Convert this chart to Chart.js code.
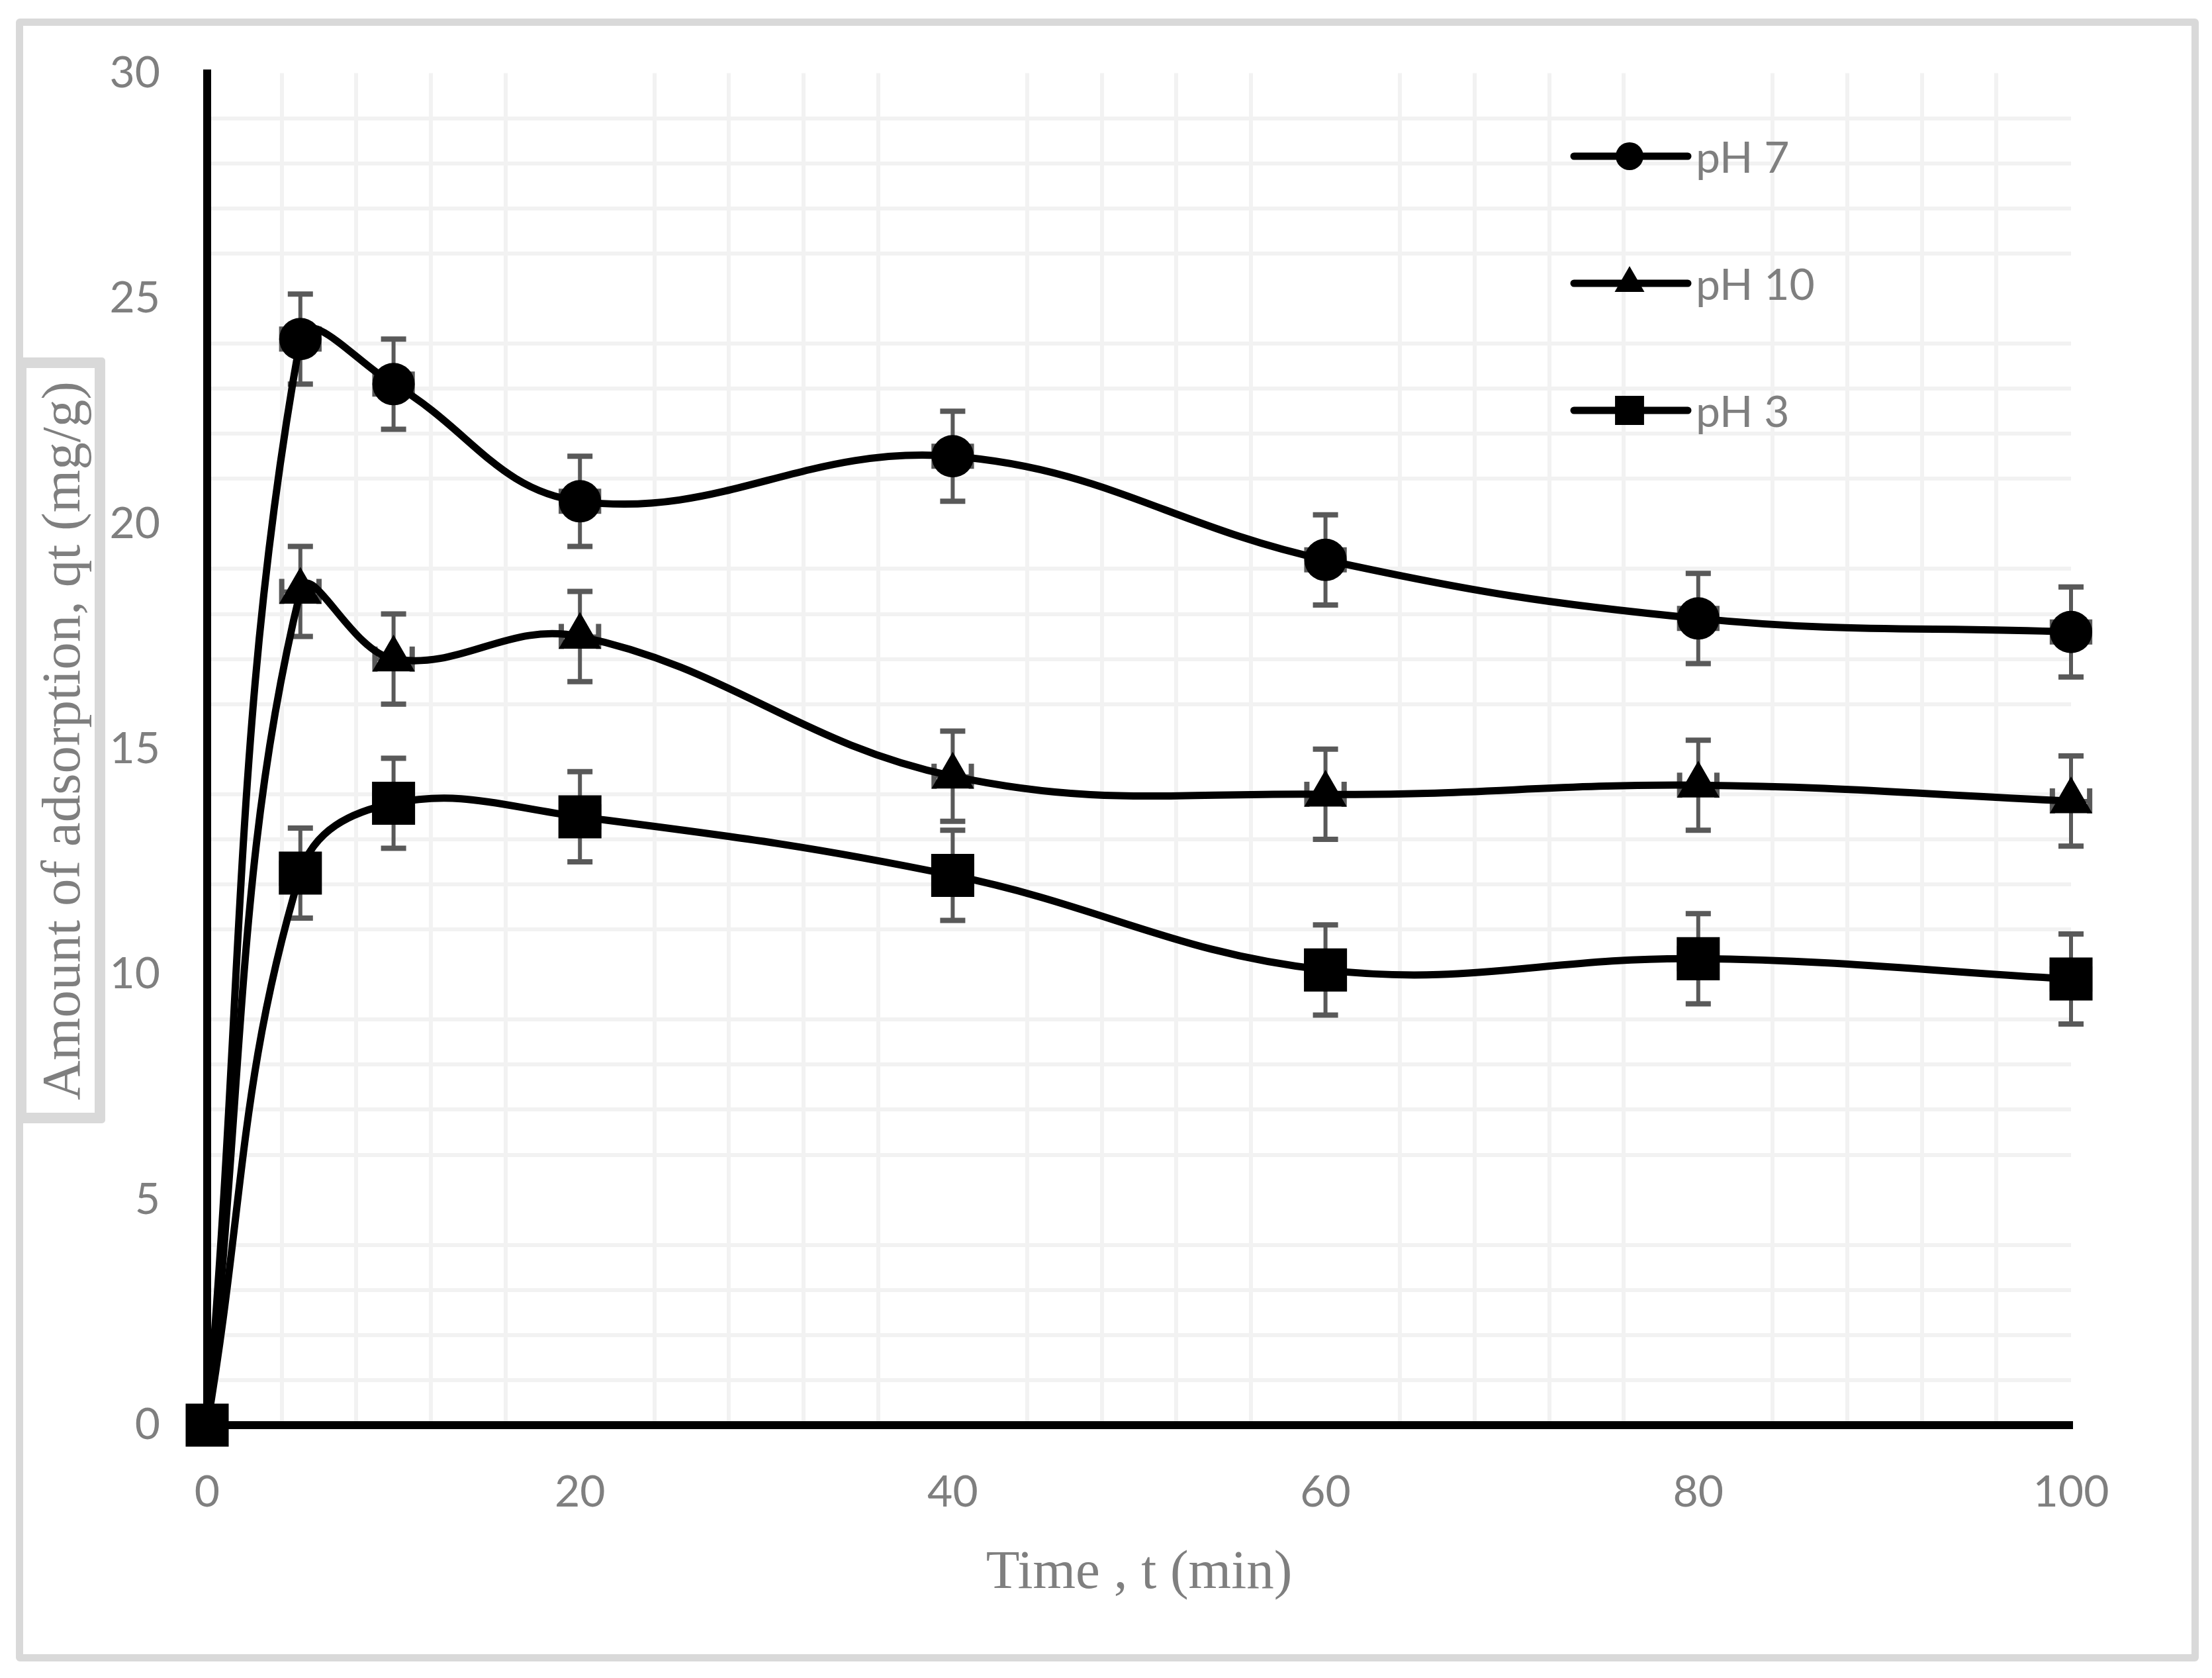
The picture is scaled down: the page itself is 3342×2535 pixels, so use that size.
<!DOCTYPE html>
<html>
<head>
<meta charset="utf-8">
<script src="https://cdn.jsdelivr.net/npm/chart.js@4.4.0/dist/chart.umd.min.js"></script>
<style>
  html, body { margin: 0; padding: 0; background: #fff; }
  #wrap { position: relative; width: 3342px; height: 2535px; }
  #frame {
    position: absolute; left: 24px; top: 28px; width: 3298px; height: 2482px;
    border: 11px solid #d9d9d9; border-radius: 6px; box-sizing: border-box;
  }
  #ytitle {
    position: absolute; left: 24px; top: 540px; width: 135px; height: 1157px;
    border: 16px solid #d9d9d9; border-radius: 5px; box-sizing: border-box; background: #fff;
  }
  #ytitle span {
    position: absolute; left: 50%; top: 50%;
    transform: translate(-50%, -50%) rotate(-90deg);
    white-space: nowrap; font: 83px "Liberation Serif", serif; color: #7f7f7f;
  }
  canvas { position: absolute; left: 0; top: 0; }
</style>
</head>
<body>
<div id="wrap">
  <div id="frame"></div>
  <canvas id="kineticsChart" width="3342" height="2535"></canvas>
  <div id="ytitle"><span>Amount of adsorption, qt (mg/g)</span></div>
</div>
<script>
// Contact time (min)
const times = [0, 5, 10, 20, 40, 60, 80, 100];

// Amount adsorbed qt (mg/g)
const ph7 = [0, 24.1, 23.1, 20.5, 21.5, 19.2, 17.9, 17.6];
const ph10 = [0, 18.5, 17.0, 17.5, 14.4, 14.0, 14.2, 13.85];
const ph3 = [0, 12.25, 13.8, 13.5, 12.2, 10.1, 10.35, 9.9];

// error bars (same for every series)
const yErr = [0, 1, 1, 1, 1, 1, 1, 1];
const xErr = [0, 1, 1, 1, 1, 1, 1, 1];

const xTickStep = 4;
const xLabelStep = 20;
const yTickStep = 1;
const yLabelStep = 5;

const gridGrey = '#f2f2f2';
const textGrey = '#7f7f7f';

function toPoints(values) {
    return times.map((t, i) => ({ x: t, y: values[i] }));
}

function seriesStyle(label, values, pointStyle, radius, order) {
    return {
        label: label,
        data: toPoints(values),
        borderColor: '#000',
        backgroundColor: '#000',
        borderWidth: 11,
        borderJoinStyle: 'round',
        tension: 0.4,
        pointStyle: pointStyle,
        pointRadius: radius,
        pointBorderWidth: 0,
        pointBackgroundColor: '#000',
        clip: false,
        order: order,
        errY: yErr,
        errX: xErr
    };
}

// draws x and y error bars under the lines
const errorBars = {
    id: 'errorBars',
    beforeDatasetsDraw(chart) {
        const { ctx, scales: { x, y } } = chart;
        ctx.save();
        ctx.strokeStyle = '#595959';
        ctx.lineCap = 'butt';
        const cap = 19;
        chart.data.datasets.forEach(ds => {
            ds.data.forEach((pt, i) => {
                const px = x.getPixelForValue(pt.x);
                const py = y.getPixelForValue(pt.y);
                const ey = ds.errY[i];
                const ex = ds.errX[i];
                if (ey) {
                    const top = y.getPixelForValue(pt.y + ey);
                    const bot = y.getPixelForValue(pt.y - ey);
                    ctx.lineWidth = 6;
                    ctx.beginPath();
                    ctx.moveTo(px, top); ctx.lineTo(px, bot);
                    ctx.stroke();
                    ctx.lineWidth = 8;
                    ctx.beginPath();
                    ctx.moveTo(px - cap, top); ctx.lineTo(px + cap, top);
                    ctx.moveTo(px - cap, bot); ctx.lineTo(px + cap, bot);
                    ctx.stroke();
                }
                if (ex) {
                    const lft = x.getPixelForValue(pt.x - ex);
                    const rgt = x.getPixelForValue(pt.x + ex);
                    ctx.lineWidth = 6;
                    ctx.beginPath();
                    ctx.moveTo(lft, py); ctx.lineTo(rgt, py);
                    ctx.stroke();
                    ctx.lineWidth = 8;
                    ctx.beginPath();
                    ctx.moveTo(lft, py - cap); ctx.lineTo(lft, py + cap);
                    ctx.moveTo(rgt, py - cap); ctx.lineTo(rgt, py + cap);
                    ctx.stroke();
                }
            });
        });
        ctx.restore();
    }
};

// legend inside the plot, top right, one entry per row
const sideLegend = {
    id: 'sideLegend',
    afterDraw(chart) {
        const ctx = chart.ctx;
        const legendRadius = { circle: 21, triangle: 26, rect: 31 };
        chart.data.datasets.forEach((ds, i) => {
            const cy = 236 + i * 192;
            ctx.save();
            ctx.strokeStyle = '#000';
            ctx.lineWidth = 11;
            ctx.lineCap = 'round';
            ctx.beginPath();
            ctx.moveTo(2378, cy);
            ctx.lineTo(2550, cy);
            ctx.stroke();
            ctx.fillStyle = '#000';
            Chart.helpers.drawPoint(ctx, {
                pointStyle: ds.pointStyle,
                radius: legendRadius[ds.pointStyle],
                borderWidth: 0
            }, 2462, cy);
            ctx.fillStyle = textGrey;
            ctx.font = '66px Lato';
            ctx.textBaseline = 'middle';
            ctx.fillText(ds.label, 2562, cy + 4);
            ctx.restore();
        });
    }
};

function initializeKineticsChart() {
    const ctx = document.getElementById('kineticsChart').getContext('2d');

    const config = {
        type: 'line',
        data: {
            datasets: [
                seriesStyle('pH 7', ph7, 'circle', 32, 2),
                seriesStyle('pH 10', ph10, 'triangle', 37, 1),
                seriesStyle('pH 3', ph3, 'rect', 46, 0)
            ]
        },
        options: {
            responsive: false,
            animation: false,
            devicePixelRatio: 1,
            layout: {
                padding: { left: 0, right: 213, top: 107, bottom: 0 }
            },
            plugins: {
                legend: { display: false },
                tooltip: { enabled: false }
            },
            scales: {
                x: {
                    type: 'linear',
                    min: 0,
                    max: 100,
                    afterFit(scale) { scale.height = 382; },
                    border: { color: '#000', width: 12 },
                    grid: {
                        drawTicks: false,
                        lineWidth: 6,
                        color: c => (c.tick && c.tick.value % xLabelStep === 0) ? 'rgba(0,0,0,0)' : gridGrey
                    },
                    ticks: {
                        stepSize: xTickStep,
                        autoSkip: false,
                        maxRotation: 0,
                        padding: 62,
                        color: textGrey,
                        font: { family: 'Lato', size: 66 },
                        callback: v => (v % xLabelStep === 0 ? v : '')
                    },
                    title: {
                        display: true,
                        text: 'Time , t (min)',
                        color: textGrey,
                        font: { family: 'Liberation Serif', size: 83 },
                        padding: { top: 0, bottom: 108 }
                    }
                },
                y: {
                    min: 0,
                    max: 30,
                    afterFit(scale) { scale.width = 313; },
                    border: { color: '#000', width: 12 },
                    grid: {
                        drawTicks: false,
                        lineWidth: 6,
                        color: c => (c.tick && c.tick.value % yLabelStep === 0) ? 'rgba(0,0,0,0)' : gridGrey
                    },
                    ticks: {
                        stepSize: yTickStep,
                        autoSkip: false,
                        padding: 71,
                        color: textGrey,
                        font: { family: 'Lato', size: 66 },
                        callback: v => (v % yLabelStep === 0 ? v : '')
                    }
                }
            }
        },
        plugins: [errorBars, sideLegend]
    };

    new Chart(ctx, config);
}

document.addEventListener('DOMContentLoaded', initializeKineticsChart);
</script>
</body>
</html>
